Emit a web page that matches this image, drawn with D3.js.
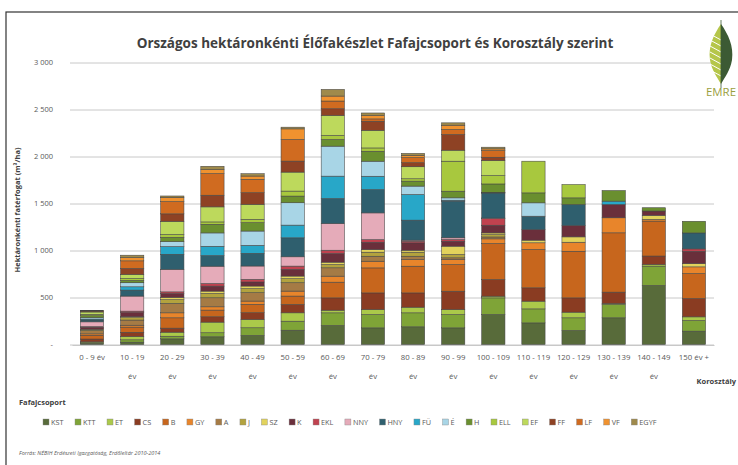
<!DOCTYPE html>
<html>
<head>
<meta charset="utf-8">
<script src="https://d3js.org/d3.v7.min.js"></script>
<style>
body {margin:0; background:#fff;}
svg text {font-family:'Open Sans', sans-serif;}
</style>
</head>
<body>
<svg id="chart" width="738" height="465"></svg>
<script>
// age classes (x axis), two-line labels
var categories = ['0 - 9 év','10 - 19|év','20 - 29|év','30 - 39|év','40 - 49|év','50 - 59|év','60 - 69|év','70 - 79|év',
                  '80 - 89|év','90 - 99|év','100 - 109|év','110 - 119|év','120 - 129|év','130 - 139|év','140 - 149|év','150 év +']
var species = ['KST','KTT','ET','CS','B','GY','A','J','SZ','K','EKL','NNY','HNY','FÜ','É','H','ELL','EF','FF','LF','VF','EGYF']
var colors = ['#586b3a','#7fa437','#abc94a','#8a3c22','#c7661d','#e8852b','#a57b45','#b3a33e','#e2d35c','#6a2f3b','#c0424f',
              '#e5abb9','#2f5f6e','#28a7c8','#a8d5e6','#6a8f2f','#a8c83e','#bdd95c','#8e4224','#d06b20','#f0922f','#9f8a4b']
var yTicks = [0,500,1000,1500,2000,2500,3000]

// m3/ha per age class, one array per species group
var KST  = [10,25,60,82,96,152,202,177,188,177,319,230,149,284,628,142]
var KTT  = [8,25,28,43,82,96,135,142,149,142,177,149,135,142,206,113]
var ET   = [10,35,43,113,89,89,28,53,60,53,18,82,60,10,18,39]
var CS   = [30,45,43,57,71,89,131,177,152,195,177,142,152,121,89,195]
var B    = [40,55,110,71,89,89,167,266,284,284,383,408,496,631,372,266]
var GY   = [15,20,53,35,35,53,64,71,71,53,50,71,96,160,18,71]
var A    = [35,55,100,96,89,89,89,53,35,18,20,0,0,0,0,0]
var J    = [10,25,40,46,43,43,35,43,43,35,25,0,0,0,0,0]
var SZ   = [5,10,25,25,28,28,25,28,21,89,18,28,57,0,43,35]
var K    = [20,45,40,53,43,71,92,78,78,53,82,113,121,142,46,131]
var EKL  = [8,15,18,28,28,35,35,28,18,18,71,0,0,0,0,25]
var NNY  = [50,160,240,184,142,99,284,284,11,18,5,0,0,0,0,0]
var HNY  = [20,64,160,113,135,202,266,248,213,390,266,142,223,0,0,170]
var FU   = [10,35,82,99,85,135,238,142,273,10,3,0,0,35,0,0]
var E    = [15,43,53,142,152,238,319,160,89,25,5,142,0,0,0,0]
var H    = [20,25,45,92,89,71,71,106,53,71,89,106,71,113,35,124]
var ELL  = [15,20,30,25,35,53,43,35,25,319,89,337,142,0,0,0]
var EF   = [25,43,140,160,160,202,213,188,128,117,160,0,0,0,0,0]
var FF   = [5,64,80,124,124,117,71,96,43,167,35,0,0,0,0,0]
var LF   = [5,81,130,230,142,230,82,25,53,53,71,0,0,0,0,0]
var VF   = [3,35,45,43,35,113,53,35,25,46,18,0,0,0,0,0]
var EGYF = [3,25,15,35,25,18,71,28,21,25,18,0,0,0,0,0]
var seriesValues = [KST,KTT,ET,CS,B,GY,A,J,SZ,K,EKL,NNY,HNY,FU,E,H,ELL,EF,FF,LF,VF,EGYF]

var svg = d3.select('#chart')

// outer frame
svg.append('rect')
   .attr('x',6).attr('y',12).attr('width',760).attr('height',470)
   .attr('fill','#fff').attr('stroke','#333').attr('stroke-width',1.2)

// title
svg.append('text')
   .attr('x',375).attr('y',48)
   .attr('text-anchor','middle')
   .style('font-size','13.5px').style('font-weight','bold').attr('fill','#404040')
   .text('Országos hektáronkénti Élőfakészlet Fafajcsoport és Korosztály szerint')

// scales
var x = d3.scaleBand().domain(categories).range([72,714]).paddingInner(0.42).paddingOuter(0.21)
var y = d3.scaleLinear().domain([0,3000]).range([344.5,62.5])
var color = d3.scaleOrdinal().domain(species).range(colors)

// grid lines + y labels
var yAxis = d3.axisLeft(y).tickValues(yTicks).tickSize(-(714-70)).tickPadding(17)
   .tickFormat(function(d) {return d == 0 ? '-' : d3.format(',')(d).replace(',', ' ')})
var gy = svg.append('g').attr('transform','translate(70,0)').call(yAxis)
gy.select('.domain').remove()
gy.selectAll('line').attr('stroke','#c8c8c8').attr('stroke-width',1)
gy.selectAll('text').attr('fill','#595959').style('font-size','7.5px')

// y axis title
svg.append('text')
   .attr('transform','translate(20,210) rotate(-90)')
   .attr('text-anchor','middle')
   .style('font-size','7.5px').style('font-weight','bold').attr('fill','#404040')
   .text('Hektáronkénti fatérfogat (m³/ha)')

// stacked bars
var table = categories.map(function(c,i) {
   var row = {cat:c}
   species.forEach(function(s,j) {row[s] = seriesValues[j][i]})
   return row
})
var stack = d3.stack().keys(species)(table)

svg.append('g').selectAll('g')
   .data(stack).enter().append('g')
     .attr('fill',function(d) {return color(d.key)})
   .selectAll('rect')
   .data(function(d) {return d.filter(function(p) {return p[1]-p[0] > 0})})
   .enter().append('rect')
     .attr('x',function(d) {return x(d.data.cat)})
     .attr('y',function(d) {return y(d[1])})
     .attr('width',x.bandwidth())
     .attr('height',function(d) {return y(d[0])-y(d[1])})
     .attr('stroke','#454545').attr('stroke-width',0.55)

// x axis labels
var xAxis = d3.axisBottom(x).tickSize(0).tickPadding(9).tickFormat('')
var gx = svg.append('g').attr('transform','translate(0,345)').call(xAxis)
gx.select('.domain').attr('stroke','#c8c8c8')
gx.selectAll('.tick').each(function(d) {
   var parts = d.split('|')
   var t = d3.select(this).append('text')
      .attr('fill','#595959').style('font-size','7.8px').attr('text-anchor','middle')
   parts.forEach(function(p,k) {
      t.append('tspan').attr('x',0).attr('y',15 + k*18.5).text(p)
   })
})

svg.append('text')
   .attr('x',736).attr('y',384).attr('text-anchor','end')
   .style('font-size','7.5px').style('font-weight','bold').attr('fill','#404040')
   .text('Korosztály')

// legend
svg.append('text')
   .attr('x',19).attr('y',405)
   .style('font-size','7.5px').style('font-weight','bold').attr('fill','#404040')
   .text('Fafajcsoport')

var lx = 43
species.forEach(function(s) {
   svg.append('rect').attr('x',lx).attr('y',419).attr('width',6).attr('height',6)
      .attr('fill',color(s)).attr('stroke','#888').attr('stroke-width',0.4)
   var t = svg.append('text').attr('x',lx+8).attr('y',425)
      .style('font-size','7.3px').attr('fill','#595959').text(s)
   lx += 8 + t.node().getComputedTextLength() + 11.5
})

// source
svg.append('text')
   .attr('x',19).attr('y',455)
   .style('font-size','5.5px').style('font-style','italic').attr('fill','#595959')
   .text('Forrás: NÉBIH Erdészeti Igazgatóság, Erdőleltár 2010-2014')

// logo leaf
var logo = svg.append('g').attr('transform','translate(721,0)')
logo.append('path')
   .attr('d','M0,24 C-7,34 -13,46 -11,60 C-9,71 -4,77 0,84 Z')
   .attr('fill','#b5c64a')
logo.append('path')
   .attr('d','M0,24 C7,34 13,46 11,60 C9,71 4,77 0,84 Z')
   .attr('fill','#3c5a34')
d3.range(7).forEach(function(k) {
   logo.append('line')
      .attr('x1',0).attr('y1',40+k*6).attr('x2',-11).attr('y2',34+k*6)
      .attr('stroke','#fff').attr('stroke-width',1)
})
logo.append('line').attr('x1',0).attr('y1',20).attr('x2',0).attr('y2',88)
   .attr('stroke','#3c5a34').attr('stroke-width',0.8)
logo.append('text')
   .attr('x',0).attr('y',96).attr('text-anchor','middle')
   .style('font-size','10px').attr('fill','#9aa03e')
   .attr('textLength',30).attr('lengthAdjust','spacingAndGlyphs')
   .text('EMRE')
</script>
</body>
</html>
